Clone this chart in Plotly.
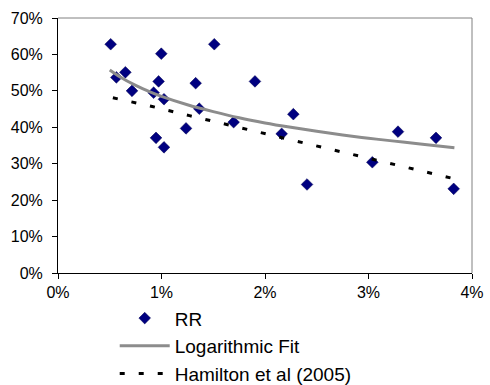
import plotly.graph_objects as go

# Data (x and y in percent)
rr_x = [0.509, 0.564, 0.651, 0.715, 0.924, 0.972, 0.998, 1.024, 0.947, 1.024,
        1.237, 1.330, 1.365, 1.510, 1.697, 1.903, 2.274, 2.161, 3.285, 3.652,
        2.406, 3.037, 3.823]
rr_y = [62.8, 53.7, 55.1, 50.0, 49.5, 52.6, 60.2, 47.7, 37.1, 34.5,
        39.7, 52.1, 45.1, 62.8, 41.4, 52.6, 43.6, 38.2, 38.8, 37.1,
        24.3, 30.4, 23.1]

fit_x = [0.50, 0.60, 0.75, 0.90, 1.00, 1.25, 1.50, 1.75, 2.00, 2.25, 2.50,
         2.75, 3.00, 3.25, 3.50, 3.83]
fit_y = [55.7, 53.8, 51.5, 49.6, 48.5, 46.2, 44.3, 42.6, 41.2, 40.0, 38.9,
         37.9, 37.0, 36.2, 35.4, 34.4]

ham_x = [0.53, 0.91, 1.27, 1.64, 2.00, 2.55, 2.92, 3.27, 3.63, 3.81]
ham_y = [48.1, 45.7, 43.2, 40.7, 38.3, 34.6, 32.0, 29.6, 27.2, 26.0]

x_ticks = [0, 1, 2, 3, 4]
x_labels = ["0%", "1%", "2%", "3%", "4%"]
y_ticks = [0, 10, 20, 30, 40, 50, 60, 70]
y_labels = ["0%", "10%", "20%", "30%", "40%", "50%", "60%", "70%"]

fig = go.Figure()
fig.add_trace(go.Scatter(
    x=rr_x, y=rr_y, mode="markers", name="RR",
    marker=dict(symbol="diamond", size=9, color="#000080",
                line=dict(color="#000050", width=0.5)),
))
fig.add_trace(go.Scatter(
    x=fit_x, y=fit_y, mode="lines", name="Logarithmic Fit",
    line=dict(color="#8c8c8c", width=3, shape="spline"),
))
fig.add_trace(go.Scatter(
    x=ham_x, y=ham_y, mode="lines", name="Hamilton et al (2005)",
    line=dict(color="#000000", width=3, dash="5px,14px"),
))

font = "Liberation Sans, Arial, sans-serif"
fig.update_layout(
    width=490, height=385,
    margin=dict(l=58, r=18, t=18, b=112, autoexpand=False),
    paper_bgcolor="white", plot_bgcolor="white",
    font=dict(family=font, size=16, color="#000000"),
    showlegend=True,
    legend=dict(
        orientation="v", x=0.137, xanchor="left", y=-0.103, yanchor="top",
        font=dict(family=font, size=19, color="#000000"),
        bgcolor="rgba(0,0,0,0)", itemwidth=50, tracegroupgap=0,
    ),
    xaxis=dict(
        range=[0, 4], tickmode="array", tickvals=x_ticks, ticktext=x_labels,
        showgrid=False, zeroline=False, showline=True, linecolor="#000000",
        linewidth=1, ticks="outside", ticklen=5, tickcolor="#000000",
        mirror=False, tickfont=dict(size=16), automargin=False,
    ),
    yaxis=dict(
        range=[0, 70], tickmode="array", tickvals=y_ticks, ticktext=y_labels,
        showgrid=False, zeroline=False, showline=True, linecolor="#000000",
        linewidth=1, ticks="outside", ticklen=5, tickcolor="#000000",
        tickfont=dict(size=16), automargin=False, ticklabelstandoff=6,
    ),
    shapes=[
        dict(type="line", xref="paper", yref="paper", x0=0, x1=1, y0=1, y1=1,
             line=dict(color="#808080", width=1)),
        dict(type="line", xref="paper", yref="paper", x0=1, x1=1, y0=0, y1=1,
             line=dict(color="#808080", width=1)),
    ],
)

fig.write_html("out.html", config={"displayModeBar": False},
               post_script="document.body.style.margin='0';")
